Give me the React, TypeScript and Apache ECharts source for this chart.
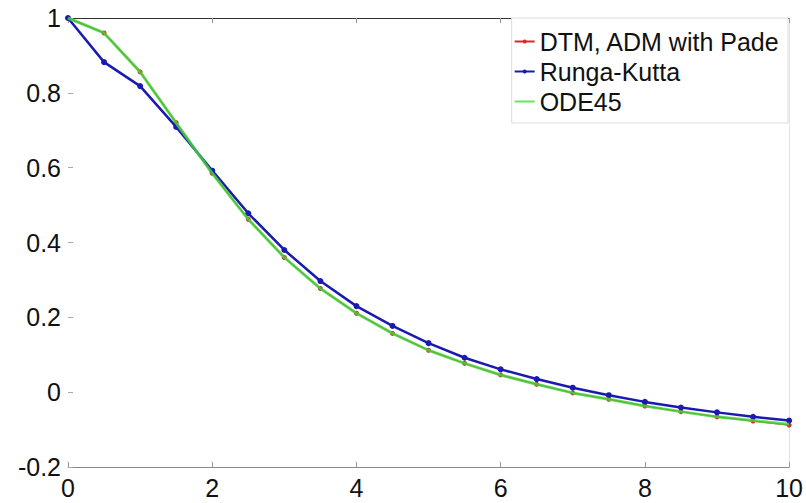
import React, { useEffect, useRef } from "react";
import * as echarts from "echarts";

const xValues = [0, 0.5, 1, 1.5, 2, 2.5, 3, 3.5, 4, 4.5, 5, 5.5, 6, 6.5, 7, 7.5, 8, 8.5, 9, 9.5, 10];
const dtmAdm = [1.0, 0.96, 0.856, 0.72, 0.585, 0.462, 0.36, 0.277, 0.211, 0.157, 0.112, 0.077, 0.046, 0.021, -0.002, -0.019, -0.037, -0.052, -0.066, -0.077, -0.088];
const rungeKutta = [1.0, 0.882, 0.818, 0.709, 0.592, 0.478, 0.38, 0.297, 0.23, 0.177, 0.131, 0.092, 0.061, 0.035, 0.012, -0.008, -0.026, -0.041, -0.054, -0.066, -0.076];
const ode45 = [1.0, 0.96, 0.856, 0.72, 0.585, 0.462, 0.36, 0.277, 0.211, 0.157, 0.112, 0.077, 0.046, 0.021, -0.002, -0.019, -0.037, -0.052, -0.066, -0.076, -0.086];
const seriesNames = ["DTM, ADM with Pade", "Runga-Kutta", "ODE45"];

const pairs = (ys: number[]) => xValues.map((x, i) => [x, ys[i]]);

const FONT = "'Liberation Sans', Arial, Helvetica, sans-serif";

export default function App() {
  const ref = useRef<HTMLDivElement>(null);
  useEffect(() => {
    if (!ref.current) return;
    const chart = echarts.init(ref.current, undefined, { renderer: "svg" });
    chart.setOption({
      animation: false,
      backgroundColor: "#ffffff",
      textStyle: { fontFamily: FONT },
      grid: { left: 68, right: 16, top: 18, bottom: 36, containLabel: false },
      legend: {
        orient: "vertical",
        right: 18,
        top: 18,
        padding: [11, 8, 9, 2],
        itemGap: 5,
        itemWidth: 20,
        itemHeight: 5,
        borderColor: "#dddddd",
        borderWidth: 1,
        backgroundColor: "#ffffff",
        textStyle: { fontSize: 25, color: "#111", fontFamily: FONT, lineHeight: 24 },
        data: [
          { name: seriesNames[0] },
          { name: seriesNames[1] },
          { name: seriesNames[2], itemStyle: { opacity: 0 } },
        ],
      },
      xAxis: [
        {
          type: "value",
          min: 0,
          max: 10,
          interval: 2,
          position: "bottom",
          axisLine: { show: true, onZero: false, lineStyle: { color: "#8a8a8a", width: 1 } },
          axisTick: { show: true, inside: true, length: 5, lineStyle: { color: "#999" } },
          axisLabel: { fontSize: 25, color: "#111", margin: 8, fontFamily: FONT },
          splitLine: { show: false },
        },
        {
          type: "value",
          min: 0,
          max: 10,
          interval: 2,
          position: "top",
          axisLine: { show: true, onZero: false, lineStyle: { color: "#333", width: 1 } },
          axisTick: { show: true, inside: true, length: 5, lineStyle: { color: "#999" } },
          axisLabel: { show: false },
          splitLine: { show: false },
        },
      ],
      yAxis: [
        {
          type: "value",
          min: -0.2,
          max: 1,
          interval: 0.2,
          position: "left",
          axisLine: { show: false, onZero: false },
          axisTick: { show: true, inside: true, length: 5, lineStyle: { color: "#aaa" } },
          axisLabel: { fontSize: 25, color: "#111", margin: 7, fontFamily: FONT },
          splitLine: { show: false },
        },
        {
          type: "value",
          min: -0.2,
          max: 1,
          interval: 0.2,
          position: "right",
          axisLine: { show: true, onZero: false, lineStyle: { color: "#e2e2e2", width: 1 } },
          axisTick: { show: false },
          axisLabel: { show: false },
          splitLine: { show: false },
        },
      ],
      series: [
        {
          name: seriesNames[0],
          type: "line",
          data: pairs(dtmAdm),
          symbol: "circle",
          symbolSize: 5,
          itemStyle: { color: "#d42a2a" },
          lineStyle: { color: "#d42a2a", width: 1.5 },
          z: 2,
        },
        {
          name: seriesNames[1],
          type: "line",
          data: pairs(rungeKutta),
          symbol: "circle",
          symbolSize: 6,
          itemStyle: { color: "#1a1ab0" },
          lineStyle: { color: "#1a1ab0", width: 2.5 },
          z: 3,
        },
        {
          name: seriesNames[2],
          type: "line",
          data: pairs(ode45),
          symbol: "none",
          itemStyle: { color: "#3fdc3f" },
          lineStyle: { color: "#3fdc3f", width: 3, opacity: 0.8 },
          z: 4,
        },
      ],
    });
    return () => chart.dispose();
  }, []);
  return <div ref={ref} style={{ width: 806, height: 503, position: "fixed", left: 0, top: 0 }} />;
}
